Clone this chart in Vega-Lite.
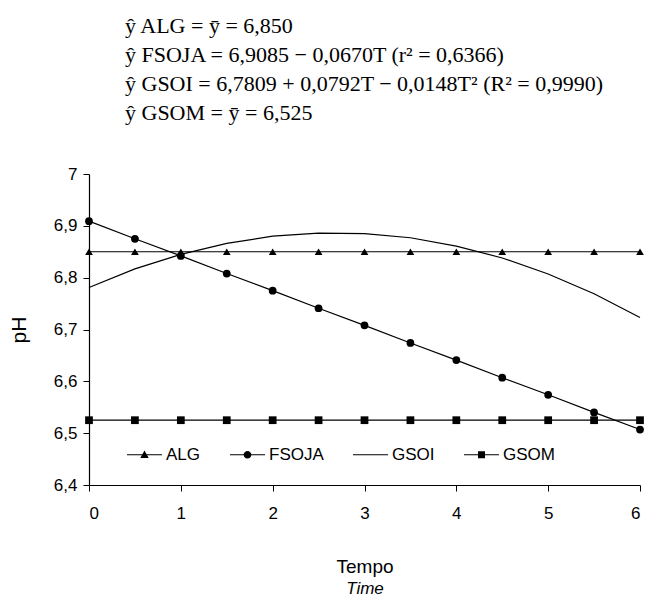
{
  "$schema": "https://vega.github.io/schema/vega-lite/v6.json",
  "width": 551,
  "height": 311,
  "autosize": {"type": "none"},
  "padding": {"left": 89, "top": 174, "right": 5, "bottom": 119},
  "background": "white",
  "config": {
    "view": {"stroke": null},
    "font": "Liberation Sans",
    "axis": {
      "domainColor": "black",
      "domainWidth": 1.2,
      "tickColor": "black",
      "tickWidth": 1,
      "tickSize": 6,
      "labelColor": "black",
      "labelFont": "Liberation Sans",
      "labelFontSize": 17,
      "titleColor": "black",
      "titleFont": "Liberation Sans",
      "titleFontWeight": "normal",
      "grid": false
    }
  },
  "title": {
    "text": [
      "ŷ ALG = ȳ = 6,850",
      "ŷ FSOJA = 6,9085 − 0,0670T (r² = 0,6366)",
      "ŷ GSOI = 6,7809 + 0,0792T − 0,0148T² (R² = 0,9990)",
      "ŷ GSOM = ȳ = 6,525"
    ],
    "anchor": "start",
    "frame": "group",
    "dx": 36,
    "offset": 40,
    "font": "Liberation Serif",
    "fontSize": 22,
    "fontWeight": "normal",
    "lineHeight": 29,
    "color": "black"
  },
  "datasets": {
    "pts": [
      {"s": "ALG", "T": 0, "pH": 6.85}, {"s": "ALG", "T": 0.5, "pH": 6.85}, {"s": "ALG", "T": 1, "pH": 6.85},
      {"s": "ALG", "T": 1.5, "pH": 6.85}, {"s": "ALG", "T": 2, "pH": 6.85}, {"s": "ALG", "T": 2.5, "pH": 6.85},
      {"s": "ALG", "T": 3, "pH": 6.85}, {"s": "ALG", "T": 3.5, "pH": 6.85}, {"s": "ALG", "T": 4, "pH": 6.85},
      {"s": "ALG", "T": 4.5, "pH": 6.85}, {"s": "ALG", "T": 5, "pH": 6.85}, {"s": "ALG", "T": 5.5, "pH": 6.85},
      {"s": "ALG", "T": 6, "pH": 6.85},
      {"s": "FSOJA", "T": 0, "pH": 6.909}, {"s": "FSOJA", "T": 0.5, "pH": 6.875}, {"s": "FSOJA", "T": 1, "pH": 6.842},
      {"s": "FSOJA", "T": 1.5, "pH": 6.808}, {"s": "FSOJA", "T": 2, "pH": 6.775}, {"s": "FSOJA", "T": 2.5, "pH": 6.741},
      {"s": "FSOJA", "T": 3, "pH": 6.708}, {"s": "FSOJA", "T": 3.5, "pH": 6.674}, {"s": "FSOJA", "T": 4, "pH": 6.641},
      {"s": "FSOJA", "T": 4.5, "pH": 6.607}, {"s": "FSOJA", "T": 5, "pH": 6.574}, {"s": "FSOJA", "T": 5.5, "pH": 6.54},
      {"s": "FSOJA", "T": 6, "pH": 6.507},
      {"s": "GSOI", "T": 0, "pH": 6.781}, {"s": "GSOI", "T": 0.5, "pH": 6.817}, {"s": "GSOI", "T": 1, "pH": 6.845},
      {"s": "GSOI", "T": 1.5, "pH": 6.866}, {"s": "GSOI", "T": 2, "pH": 6.88}, {"s": "GSOI", "T": 2.5, "pH": 6.886},
      {"s": "GSOI", "T": 3, "pH": 6.885}, {"s": "GSOI", "T": 3.5, "pH": 6.877}, {"s": "GSOI", "T": 4, "pH": 6.861},
      {"s": "GSOI", "T": 4.5, "pH": 6.838}, {"s": "GSOI", "T": 5, "pH": 6.807}, {"s": "GSOI", "T": 5.5, "pH": 6.769},
      {"s": "GSOI", "T": 6, "pH": 6.723},
      {"s": "GSOM", "T": 0, "pH": 6.525}, {"s": "GSOM", "T": 0.5, "pH": 6.525}, {"s": "GSOM", "T": 1, "pH": 6.525},
      {"s": "GSOM", "T": 1.5, "pH": 6.525}, {"s": "GSOM", "T": 2, "pH": 6.525}, {"s": "GSOM", "T": 2.5, "pH": 6.525},
      {"s": "GSOM", "T": 3, "pH": 6.525}, {"s": "GSOM", "T": 3.5, "pH": 6.525}, {"s": "GSOM", "T": 4, "pH": 6.525},
      {"s": "GSOM", "T": 4.5, "pH": 6.525}, {"s": "GSOM", "T": 5, "pH": 6.525}, {"s": "GSOM", "T": 5.5, "pH": 6.525},
      {"s": "GSOM", "T": 6, "pH": 6.525}
    ]
  },
  "resolve": {"scale": {"shape": "independent"}, "axis": {"x": "independent"}},
  "layer": [
    {
      "data": {"name": "pts"},
      "mark": {"type": "line", "color": "black", "strokeWidth": 1.2},
      "encoding": {
        "x": {
          "field": "T", "type": "quantitative",
          "scale": {"domain": [0, 6], "nice": false, "zero": false},
          "axis": {"orient": "bottom", "values": [0, 1, 2, 3, 4, 5, 6], "labelPadding": 14, "title": "Tempo", "titleFontSize": 19, "titlePadding": 36}
        },
        "y": {
          "field": "pH", "type": "quantitative",
          "scale": {"domain": [6.4, 7], "nice": false, "zero": false},
          "axis": {
            "values": [6.4, 6.5, 6.6, 6.7, 6.8, 6.9, 7],
            "labelExpr": "datum.value == 7 ? '7' : replace(format(datum.value, '.1f'), '.', ',')",
            "labelPadding": 6,
            "title": "pH", "titleFontSize": 21, "titlePadding": 24
          }
        },
        "detail": {"field": "s"}
      }
    },
    {
      "data": {"name": "pts"},
      "transform": [{"filter": "datum.s != 'GSOI'"}],
      "mark": {"type": "point", "filled": true, "color": "black", "opacity": 1, "size": 60},
      "encoding": {
        "x": {"field": "T", "type": "quantitative", "axis": null},
        "y": {"field": "pH", "type": "quantitative"},
        "shape": {
          "field": "s", "type": "nominal",
          "scale": {"domain": ["ALG", "FSOJA", "GSOM"], "range": ["triangle-up", "circle", "square"]},
          "legend": null
        }
      }
    },
    {
      "data": {"name": "pts"},
      "mark": {"type": "point", "filled": true, "color": "black", "opacity": 0},
      "encoding": {
        "x": {
          "field": "T", "type": "quantitative",
          "axis": {"orient": "bottom", "offset": 93, "labels": false, "ticks": false, "domain": false, "title": "Time", "titleFontSize": 17, "titleFontStyle": "italic", "titlePadding": 2}
        },
        "y": {"field": "pH", "type": "quantitative"},
        "shape": {
          "field": "s", "type": "nominal",
          "scale": {
            "domain": ["ALG", "FSOJA", "GSOI", "GSOM"],
            "range": [
              "M-1,-0.035L1,-0.035L1,0.035L-1,0.035ZM0,-0.24L0.24,0.18L-0.24,0.18Z",
              "M-1,-0.035L1,-0.035L1,0.035L-1,0.035ZM0.22,0A0.22,0.22,0,1,1,-0.22,0A0.22,0.22,0,1,1,0.22,0Z",
              "M-1,-0.035L1,-0.035L1,0.035L-1,0.035Z",
              "M-1,-0.035L1,-0.035L1,0.035L-1,0.035ZM-0.2,-0.2L0.2,-0.2L0.2,0.2L-0.2,0.2Z"
            ]
          },
          "legend": {
            "title": null,
            "orient": "none",
            "direction": "horizontal",
            "legendX": 37,
            "legendY": 262,
            "symbolSize": 1225,
            "labelFontSize": 17,
            "labelFont": "Liberation Sans",
            "labelColor": "black",
            "labelOffset": 3,
            "columnPadding": 26,
            "padding": 0,
            "symbolOpacity": 1,
            "symbolFillColor": "black",
            "encode": {
              "symbols": {
                "fill": {"value": "black"},
                "opacity": {"value": 1},
                "fillOpacity": {"value": 1}
              }
            }
          }
        }
      }
    }
  ]
}
